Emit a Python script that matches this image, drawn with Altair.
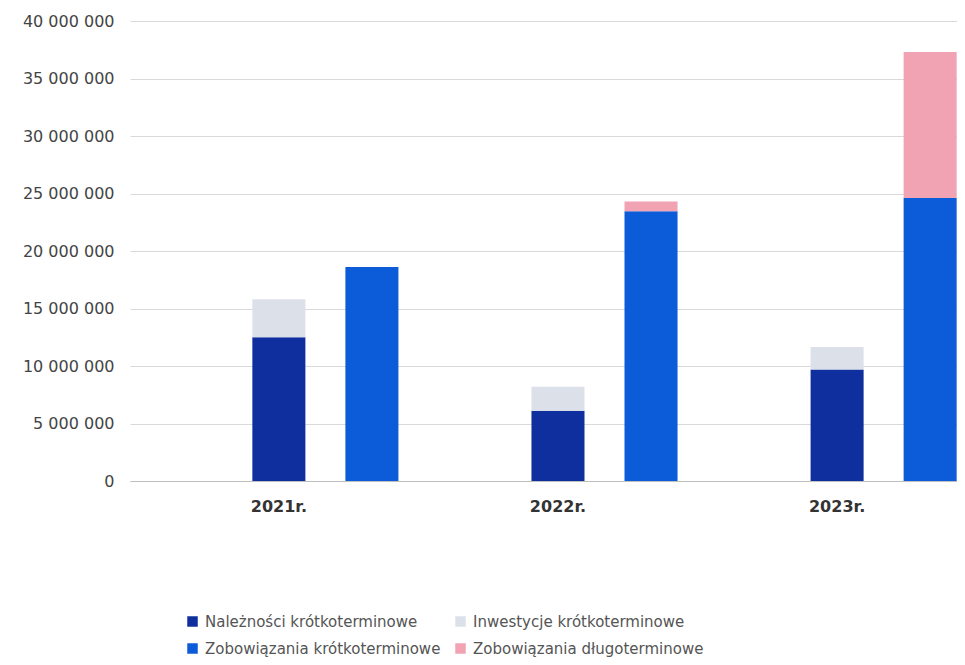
import altair as alt
import pandas as pd

years = ["2021r.", "2022r.", "2023r."]
series_names = [
    "Należności krótkoterminowe",
    "Inwestycje krótkoterminowe",
    "Zobowiązania krótkoterminowe",
    "Zobowiązania długoterminowe",
]
series_group = ["A", "A", "B", "B"]
series_order = [0, 1, 0, 1]
colors = ["#0f2f9e", "#dce0e9", "#0c5bd8", "#f2a3b3"]
# legend placement order (column-major, two rows)
legend_order = [0, 2, 1, 3]

naleznosci = [12_500_000, 6_100_000, 9_700_000]
inwestycje = [3_300_000, 2_100_000, 1_950_000]
zob_krotko = [18_600_000, 23_450_000, 24_600_000]
zob_dlugo = [0, 850_000, 12_700_000]

values = [naleznosci, inwestycje, zob_krotko, zob_dlugo]
rows = []
for s, name in enumerate(series_names):
    for i, y in enumerate(years):
        rows.append({
            "year": y,
            "grp": series_group[s],
            "series": name,
            "order": series_order[s],
            "value": values[s][i],
        })
df = pd.DataFrame(rows)
labels_df = pd.DataFrame({"year": years, "grp": ["A"] * len(years)})

label_expr = "replace(replace(format(datum.value, ','), ',', ' '), ',', ' ')"

x_enc = alt.X(
    "year:N",
    sort=years,
    scale=alt.Scale(range=[0, 949], paddingInner=0, paddingOuter=0.2),
    axis=alt.Axis(
        title=None, labels=False, ticks=False, grid=False,
        domainColor="#bfbfbf",
    ),
)
xoff_enc = alt.XOffset(
    "grp:N", sort=["A", "B"],
    scale=alt.Scale(paddingInner=0.43, paddingOuter=0.715),
)

bars = (
    alt.Chart(df)
    .transform_stack(
        stack="value",
        groupby=["year", "grp"],
        as_=["y0", "y1"],
        sort=[alt.SortField("order")],
    )
    .mark_bar()
    .encode(
        x=x_enc,
        xOffset=xoff_enc,
        y=alt.Y(
            "y0:Q",
            scale=alt.Scale(domain=[0, 40_000_000]),
            axis=alt.Axis(
                title=None, values=list(range(0, 40_000_001, 5_000_000)),
                labelExpr=label_expr, domain=False, ticks=False,
                gridColor="#d9d9d9", labelFont="DejaVu Sans", labelFontSize=16,
                labelColor="#444", labelPadding=16,
            ),
        ),
        y2="y1:Q",
        color=alt.Color(
            "series:N",
            scale=alt.Scale(
                domain=[series_names[k] for k in legend_order],
                range=[colors[k] for k in legend_order],
            ),
            legend=alt.Legend(
                orient="none", legendX=55, legendY=593, columns=2, title=None,
                gridAlign="none", symbolType="square", symbolSize=110,
                symbolStrokeWidth=0, labelFont="DejaVu Sans", labelFontSize=15,
                labelColor="#555", columnPadding=12, rowPadding=11, labelOffset=5,
                labelLimit=0,
            ),
        ),
    )
)

year_labels = (
    alt.Chart(labels_df)
    .mark_text(
        font="DejaVu Sans", fontSize=16, fontWeight="bold", color="#333",
        baseline="middle", align="center",
    )
    .encode(
        x=x_enc,
        xOffset=xoff_enc,
        y=alt.value(486),
        text="year:N",
    )
)

chart = (
    alt.layer(bars, year_labels)
    .properties(
        width=827,
        height=460,
        autosize=alt.AutoSizeParams(type="none"),
        padding={"left": 122, "top": 13, "right": 0, "bottom": 180},
    )
    .configure_view(stroke=None)
)

chart.save("out.html", embed_options={"renderer": "svg", "actions": False})
